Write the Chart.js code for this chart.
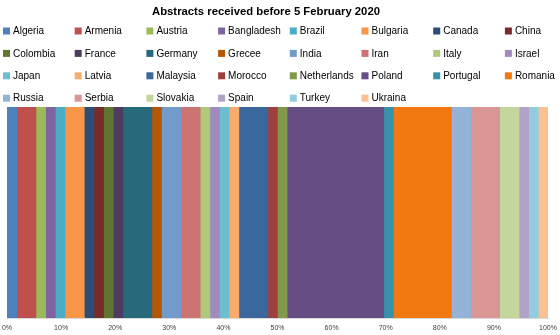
<!DOCTYPE html>
<html>
<head>
<meta charset="utf-8">
<script src="https://cdn.jsdelivr.net/npm/chart.js@4"></script>
<style>
  html, body { margin: 0; padding: 0; background: #fff; }
  #wrap { width: 560px; height: 335px; position: relative; }
</style>
</head>
<body>
<div id="wrap"><canvas id="abstractsChart"></canvas></div>
<script>
const chartTitle = "Abstracts received before 5 February 2020";

// Countries, in the order they are stacked
const countries = [
  "Algeria", "Armenia", "Austria", "Bangladesh", "Brazil", "Bulgaria", "Canada", "China",
  "Colombia", "France", "Germany", "Grecee", "India", "Iran", "Italy", "Israel",
  "Japan", "Latvia", "Malaysia", "Morocco", "Netherlands", "Poland", "Portugal", "Romania",
  "Russia", "Serbia", "Slovakia", "Spain", "Turkey", "Ukraina"
];

// Number of abstracts per country
const abstracts = [
  1, 2, 1, 1, 1, 2, 1, 1,
  1, 1, 3, 1, 2, 2, 1, 1,
  1, 1, 3, 1, 1, 10, 1, 6,
  2, 3, 2, 1, 1, 1
];

const colors = [
  "#4F81BD", "#C0504D", "#9BBB59", "#8064A2", "#4BACC6", "#F79646", "#2C4D75", "#772C2A",
  "#5F7530", "#4D3B62", "#276A7C", "#B65708", "#729ACA", "#CD7371", "#AFC97A", "#A18BBE",
  "#6FBDD1", "#F9AB6B", "#3A679C", "#9E413E", "#7F9A48", "#654E84", "#3592A8", "#F27811",
  "#95B3D7", "#D99694", "#C3D69B", "#B3A2C7", "#93CDDD", "#FAC090"
];

const total = abstracts.reduce((a, b) => a + b, 0);

// Title and legend (grid of 8 columns) drawn above the bar, like the original
const headerPlugin = {
  id: "headerPlugin",
  afterDraw(chart) {
    const ctx = chart.ctx;
    ctx.save();
    ctx.textBaseline = "middle";

    ctx.font = "bold 11.3px 'Liberation Sans', Arial, sans-serif";
    ctx.textAlign = "center";
    ctx.fillStyle = "#000";
    ctx.fillText(chartTitle, 266, 12);

    ctx.font = "10px 'Liberation Sans', Arial, sans-serif";
    ctx.textAlign = "left";
    chart.data.datasets.forEach((ds, i) => {
      const col = i % 8;
      const row = Math.floor(i / 8);
      const x = 3 + col * 71.7;
      const y = 31 + row * 22.4;
      ctx.fillStyle = ds.backgroundColor;
      ctx.fillRect(x, y - 3.5, 7, 7);
      ctx.fillStyle = "#000";
      ctx.fillText(ds.label, x + 10, y + 0.5);
    });
    ctx.restore();
  }
};

new Chart("abstractsChart", {
  type: "bar",
  data: {
    labels: [""],
    datasets: countries.map((c, i) => ({
      label: c,
      data: [abstracts[i] / total * 100],
      backgroundColor: colors[i],
      borderWidth: 0,
      barPercentage: 1,
      categoryPercentage: 1,
    })),
  },
  plugins: [headerPlugin],
  options: {
    indexAxis: "y",
    responsive: true,
    maintainAspectRatio: false,
    animation: false,
    layout: {
      padding: { left: 7, right: 12, top: 107, bottom: 0 },
    },
    plugins: {
      legend: { display: false },
      tooltip: { enabled: false },
      title: { display: false },
    },
    scales: {
      x: {
        stacked: true,
        min: 0,
        max: 100,
        grid: { display: false, drawTicks: false },
        border: { display: true, color: "#d9d9d9" },
        afterFit(scale) {
          scale.height = 17;
          scale.paddingLeft = 0;
          scale.paddingRight = 0;
        },
        ticks: {
          stepSize: 10,
          padding: 6,
          color: "#404040",
          font: { family: "'Liberation Sans', Arial, sans-serif", size: 7 },
          callback: (v) => v + "%",
          maxRotation: 0,
        },
      },
      y: {
        stacked: true,
        display: false,
      },
    },
  },
});
</script>
</body>
</html>
